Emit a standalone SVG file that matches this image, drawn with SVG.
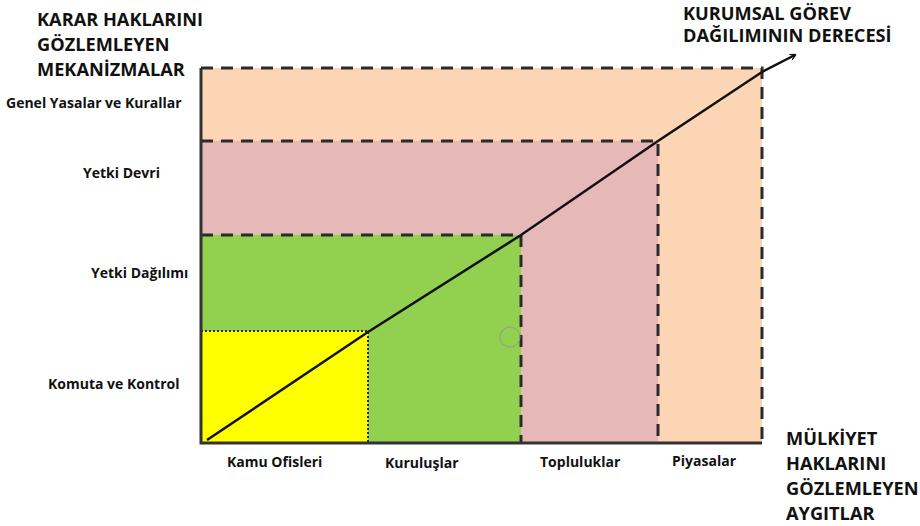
<svg xmlns="http://www.w3.org/2000/svg" width="920" height="526" viewBox="0 0 920 526">
<defs>
<style>
.t{font-family:"Open Sans","Noto Sans","DejaVu Sans",sans-serif;font-weight:bold;fill:#111;}
.h{font-size:18.2px;}
.s{font-size:14px;}
.dash{fill:none;stroke:#2b2b2b;stroke-width:3;stroke-dasharray:12 8;}
.dot{fill:none;stroke:#2b2b2b;stroke-width:2;stroke-dasharray:2 2;}
.axis{fill:none;stroke:#333;stroke-width:3;}
</style>
<marker id="arr" viewBox="0 0 10 10" refX="8" refY="5" markerWidth="6" markerHeight="6" orient="auto" markerUnits="userSpaceOnUse">
<path d="M0,0 L10,5 L0,10" fill="none" stroke="#111" stroke-width="2"/>
</marker>
</defs>
<rect width="920" height="526" fill="#fff"/>
<g id="markets"><rect x="201" y="68" width="561" height="375" fill="#FCD5B5"/></g>
<g id="communities"><rect x="201" y="141" width="457" height="302" fill="#E6B8B7"/></g>
<g id="organizations"><rect x="201" y="235" width="320" height="208" fill="#92D050"/></g>
<g id="offices"><rect x="201" y="331" width="167" height="112" fill="#FFFF00"/></g>
<g id="connectors">
<path class="dash" d="M201,68 H762 V443"/>
<path class="dash" d="M201,141 H658 V443"/>
<path class="dash" d="M201,235 H521 V443"/>
<path class="dot" d="M201,331 H368 V443"/>
<path class="axis" d="M201,68 V443 H762"/>
<path d="M207,440 L368,332 L521,235 L658,141 L762,72 L795,55" fill="none" stroke="#111" stroke-width="2.5" marker-end="url(#arr)"/>
<circle cx="510" cy="337" r="10" fill="none" stroke="#999" stroke-width="1"/>
</g>
<g id="title-left">
<text class="t h" x="37" y="26">KARAR HAKLARINI</text>
<text class="t h" x="37" y="51">GÖZLEMLEYEN</text>
<text class="t h" x="37" y="76">MEKANİZMALAR</text>
</g>
<g id="title-top-right">
<text class="t h" x="683" y="20">KURUMSAL GÖREV</text>
<text class="t h" x="683" y="42">DAĞILIMININ DERECESİ</text>
</g>
<g id="title-bottom-right">
<text class="t h" x="786" y="445">MÜLKİYET</text>
<text class="t h" x="786" y="470">HAKLARINI</text>
<text class="t h" x="786" y="495">GÖZLEMLEYEN</text>
<text class="t h" x="786" y="520">AYGITLAR</text>
</g>
<g id="y-labels">
<text class="t s" x="6" y="108">Genel Yasalar ve Kurallar</text>
<text class="t s" x="83" y="178">Yetki Devri</text>
<text class="t s" x="91" y="278">Yetki Dağılımı</text>
<text class="t s" x="48" y="389">Komuta ve Kontrol</text>
</g>
<g id="x-labels">
<text class="t s" x="227" y="467">Kamu Ofisleri</text>
<text class="t s" x="385" y="468">Kuruluşlar</text>
<text class="t s" x="540" y="467">Topluluklar</text>
<text class="t s" x="672" y="466">Piyasalar</text>
</g>
</svg>
